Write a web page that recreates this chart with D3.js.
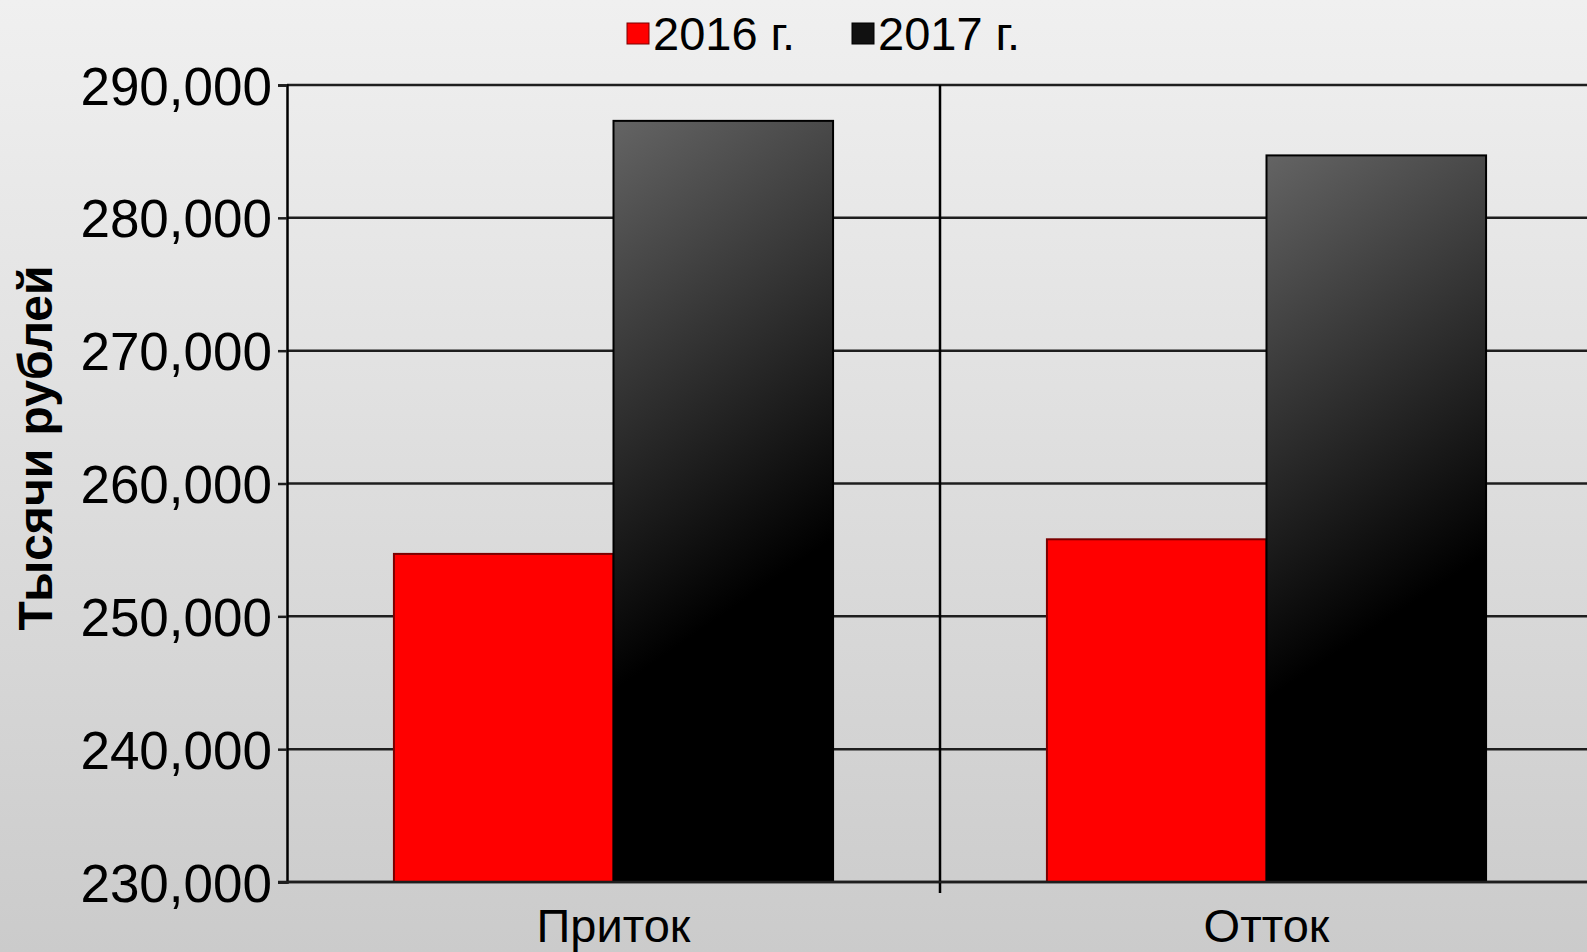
<!DOCTYPE html>
<html>
<head>
<meta charset="utf-8">
<script src="https://cdn.jsdelivr.net/npm/d3@7"></script>
<style>
  html, body { margin: 0; padding: 0; overflow: hidden; }
  text { font-family: "Liberation Sans", Arial, sans-serif; fill: #000; }
</style>
</head>
<body>
<div class="chart"></div>
<script>
var categories = ["Приток", "Отток"];
var seriesNames = ["2016 г.", "2017 г."];
var values2016 = [254700, 255800];
var values2017 = [287300, 284700];
var yTicks = [230000, 240000, 250000, 260000, 270000, 280000, 290000];

var width = 1587;
var height = 952;
var margin = {left: 287, top: 85, bottom: 70};
var plotRight = 1593;

var svg = d3.select(".chart").append("svg")
	.attr("width", width).attr("height", height);

var defs = svg.append("defs");
var bg = defs.append("linearGradient").attr("id", "bg")
	.attr("x1", 0).attr("y1", 0).attr("x2", 0).attr("y2", 1);
bg.append("stop").attr("offset", 0).attr("stop-color", "#f0f0f0");
bg.append("stop").attr("offset", 1).attr("stop-color", "#cbcbcb");

var dark = defs.append("linearGradient").attr("id", "dark")
	.attr("x1", 0).attr("y1", 0).attr("x2", 0.2).attr("y2", 1);
dark.append("stop").attr("offset", 0).attr("stop-color", "#646464");
dark.append("stop").attr("offset", 0.72).attr("stop-color", "#000");
dark.append("stop").attr("offset", 1).attr("stop-color", "#000");

svg.append("rect").attr("width", width).attr("height", height).attr("fill", "url(#bg)");

var xScale = d3.scaleBand()
	.domain(categories).range([margin.left, plotRight]).padding(0);

var xInner = d3.scaleBand()
	.domain(seriesNames).range([0, xScale.bandwidth()])
	.paddingInner(0).paddingOuter(0.487);

var yScale = d3.scaleLinear()
	.domain([230000, 290000]).range([height - margin.bottom, margin.top]);

// gridlines
svg.append("g").selectAll("line").data(yTicks).enter().append("line")
	.attr("x1", margin.left).attr("x2", plotRight)
	.attr("y1", function(d) { return yScale(d); })
	.attr("y2", function(d) { return yScale(d); })
	.attr("stroke", "#1e1e1e").attr("stroke-width", 2.5);

// category separators
svg.append("g").selectAll("line").data(categories.slice(1)).enter().append("line")
	.attr("x1", function(d) { return xScale(d); })
	.attr("x2", function(d) { return xScale(d); })
	.attr("y1", margin.top).attr("y2", height - margin.bottom + 11)
	.attr("stroke", "#000").attr("stroke-width", 2.5);

var rows = categories.map(function(c, i) {
	return {cat: c, vals: [values2016[i], values2017[i]]};
});

var fills = ["#ff0000", "url(#dark)"];
var strokes = ["#7a0000", "#000"];

var groups = svg.append("g").selectAll("g").data(rows).enter().append("g")
	.attr("transform", function(d) { return "translate(" + xScale(d.cat) + ",0)"; });

groups.selectAll("rect").data(function(d) {
	return d.vals.map(function(v, j) { return {s: seriesNames[j], v: v, j: j}; });
}).enter().append("rect")
	.attr("x", function(d) { return xInner(d.s); })
	.attr("width", xInner.bandwidth())
	.attr("y", function(d) { return yScale(d.v); })
	.attr("height", function(d) { return yScale(230000) - yScale(d.v); })
	.attr("fill", function(d) { return fills[d.j]; })
	.attr("stroke", function(d) { return strokes[d.j]; })
	.attr("stroke-width", 2);

// y axis
var yAxis = d3.axisLeft(yScale).tickValues(yTicks).tickSize(9).tickPadding(6)
	.tickFormat(d3.format(","));
var yg = svg.append("g").attr("transform", "translate(" + margin.left + ",0)").call(yAxis);
yg.select(".domain").attr("stroke", "#000").attr("stroke-width", 2.5);
yg.selectAll(".tick line").attr("stroke", "#1e1e1e").attr("stroke-width", 2.5);
yg.selectAll(".tick text").attr("font-size", 53)
	.attr("font-family", "Liberation Sans, Arial, sans-serif").attr("fill", "#000")
	.attr("dy", "0.36em");

// bottom axis line
svg.append("line")
	.attr("x1", margin.left - 9).attr("x2", plotRight)
	.attr("y1", yScale(230000)).attr("y2", yScale(230000))
	.attr("stroke", "#1e1e1e").attr("stroke-width", 2.5);

// category labels
svg.append("g").selectAll("text").data(categories).enter().append("text")
	.attr("x", function(d) { return xScale(d) + xScale.bandwidth() / 2; })
	.attr("y", 942)
	.attr("text-anchor", "middle")
	.attr("font-size", 47)
	.text(function(d) { return d; });

// y title
svg.append("text")
	.attr("transform", "translate(52,448) rotate(-90)")
	.attr("text-anchor", "middle")
	.attr("font-size", 48).attr("font-weight", "bold")
	.text("Тысячи рублей");

// legend
var legendX = [627, 852];
var legendFills = ["#ff0000", "#111"];
var legend = svg.append("g").selectAll("g").data(seriesNames).enter().append("g")
	.attr("transform", function(d, i) { return "translate(" + legendX[i] + ",0)"; });
legend.append("rect")
	.attr("x", 0).attr("y", 23).attr("width", 22).attr("height", 21)
	.attr("fill", function(d, i) { return legendFills[i]; })
	.attr("stroke", function(d, i) { return strokes[i]; }).attr("stroke-width", 1);
legend.append("text")
	.attr("x", 26).attr("y", 50)
	.attr("font-size", 47)
	.text(function(d) { return d; });
</script>
</body>
</html>
